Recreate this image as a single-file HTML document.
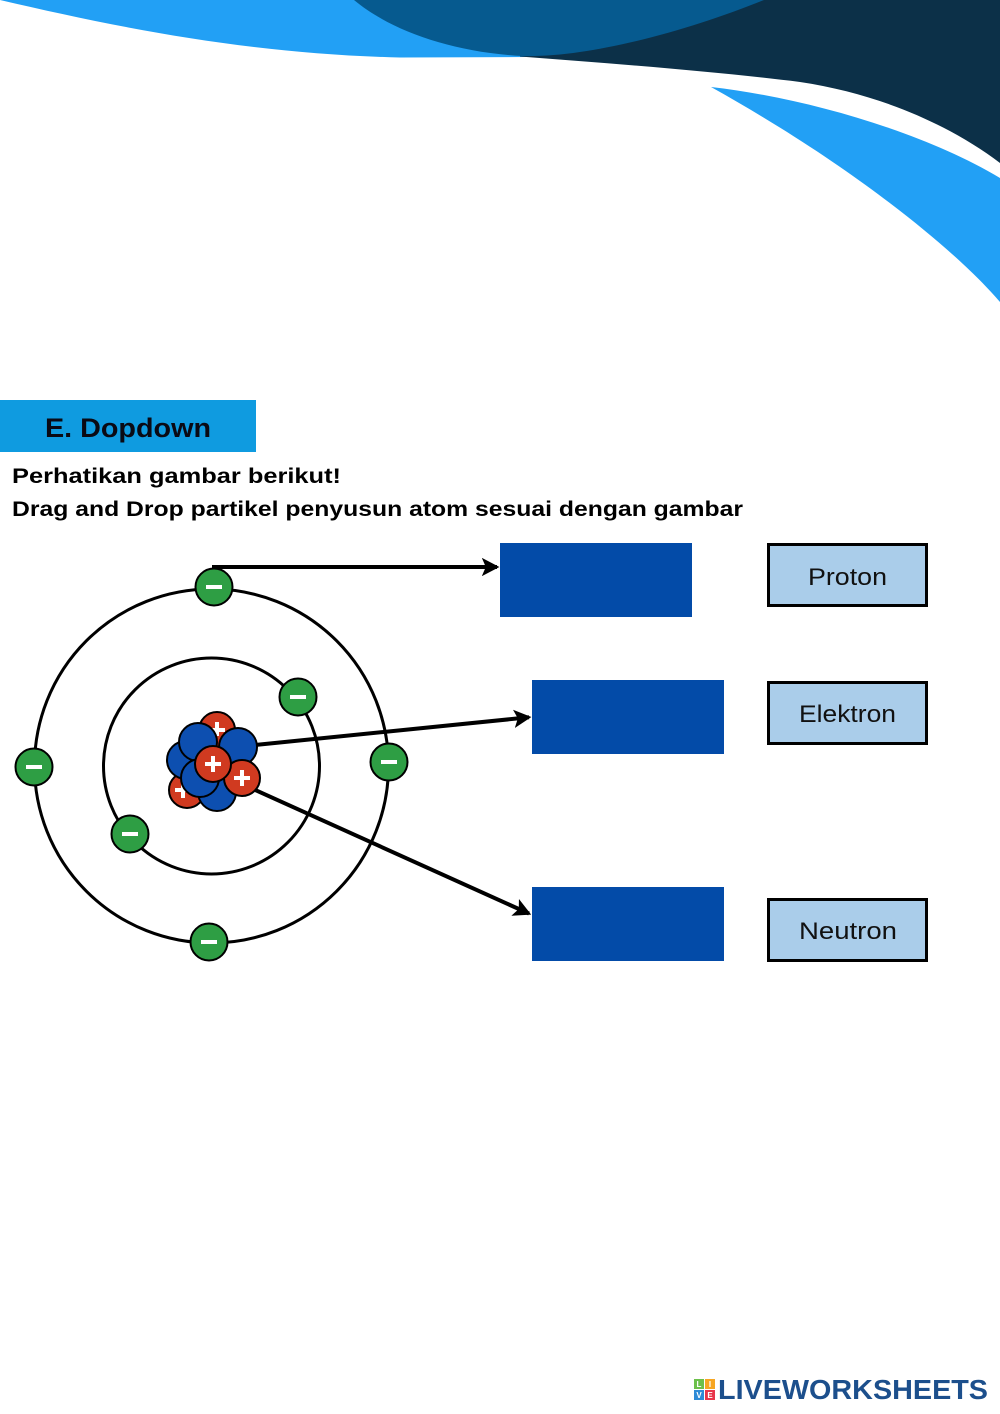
<!DOCTYPE html>
<html><head><meta charset="utf-8"><style>
html,body{margin:0;padding:0;background:#fff;}
svg{display:block;}
</style></head><body>
<svg width="1000" height="1414" viewBox="0 0 1000 1414" xmlns="http://www.w3.org/2000/svg">
<defs>
<marker id="ah" markerWidth="4.4" markerHeight="4.6" refX="3.8" refY="2.3" orient="auto" markerUnits="strokeWidth">
<path d="M0,0 L4.4,2.3 L0,4.6 L1,2.3 Z" fill="#000"/>
</marker>
</defs>
<rect width="1000" height="1414" fill="#fff"/>
<!-- header shapes -->
<path d="M0,0 C120,28 250,54 400,57.5 L526,57 L526,0 Z" fill="#22a0f5"/>
<path d="M520,56.5 C620,64 720,72 800,82 C880,94 950,125 1000,163 L1000,0 L520,0 Z" fill="#0c3048"/>
<path d="M354,0 C390,30 450,52 522,56 C590,58 690,30 764,0 Z" fill="#065a8f"/>
<path d="M711,87 C800,97 920,130 1000,178 L1000,302 C960,255 860,170 711,87 Z" fill="#22a0f5"/>

<!-- heading -->
<rect x="0" y="400" width="256" height="52" fill="#0f9be0"/>
<text x="45" y="437" font-family="Liberation Sans, sans-serif" font-weight="bold" font-size="27" fill="#0a0a14" textLength="166" lengthAdjust="spacingAndGlyphs">E. Dopdown</text>
<text x="12" y="483" font-family="Liberation Sans, sans-serif" font-weight="bold" font-size="21" fill="#000" textLength="329" lengthAdjust="spacingAndGlyphs">Perhatikan gambar berikut!</text>
<text x="12" y="516" font-family="Liberation Sans, sans-serif" font-weight="bold" font-size="21" fill="#000" textLength="731" lengthAdjust="spacingAndGlyphs">Drag and Drop partikel penyusun atom sesuai dengan gambar</text>

<!-- orbits -->
<circle cx="211.5" cy="766" r="177" fill="none" stroke="#000" stroke-width="3"/>
<circle cx="211.5" cy="766" r="108" fill="none" stroke="#000" stroke-width="3"/>

<!-- arrows -->
<line x1="212" y1="567" x2="497" y2="567" stroke="#000" stroke-width="4" marker-end="url(#ah)"/>
<line x1="255" y1="745" x2="529" y2="717.3" stroke="#000" stroke-width="4" marker-end="url(#ah)"/>
<line x1="253" y1="789" x2="529" y2="913.6" stroke="#000" stroke-width="4" marker-end="url(#ah)"/>

<!-- nucleus -->
<g stroke="#000" stroke-width="2">
<circle cx="187" cy="790" r="18" fill="#d03a20"/>
</g>
<g fill="#fff"><rect x="175" y="788" width="16" height="4"/><rect x="181" y="782" width="4" height="16"/></g>
<g stroke="#000" stroke-width="2">
<circle cx="217" cy="792" r="19" fill="#0d4fb0"/>
<circle cx="217" cy="730" r="18" fill="#d03a20"/>
</g>
<g fill="#fff"><rect x="209" y="728" width="16" height="4"/><rect x="215" y="722" width="4" height="14"/></g>
<g stroke="#000" stroke-width="2">
<circle cx="186" cy="760" r="19" fill="#0d4fb0"/>
<circle cx="198" cy="742" r="19" fill="#0d4fb0"/>
<circle cx="238" cy="747" r="19" fill="#0d4fb0"/>
<circle cx="200" cy="778" r="19" fill="#0d4fb0"/>
<circle cx="242" cy="778" r="18" fill="#d03a20"/>
<circle cx="213" cy="764" r="18" fill="#d03a20"/>
</g>
<g fill="#fff">
<rect x="234" y="776" width="16" height="4"/><rect x="240" y="770" width="4" height="16"/>
<rect x="205" y="762" width="16" height="4"/><rect x="211" y="756" width="4" height="16"/>
</g>

<!-- electrons -->
<g stroke="#000" stroke-width="2" fill="#2e9e44">
<circle cx="214" cy="587" r="18.5"/>
<circle cx="298" cy="697" r="18.5"/>
<circle cx="34" cy="767" r="18.5"/>
<circle cx="389" cy="762" r="18.5"/>
<circle cx="130" cy="834" r="18.5"/>
<circle cx="209" cy="942" r="18.5"/>
</g>
<g fill="#fff">
<rect x="206" y="585" width="16" height="4"/>
<rect x="290" y="695" width="16" height="4"/>
<rect x="26" y="765" width="16" height="4"/>
<rect x="381" y="760" width="16" height="4"/>
<rect x="122" y="832" width="16" height="4"/>
<rect x="201" y="940" width="16" height="4"/>
</g>

<!-- drop boxes -->
<rect x="500" y="543" width="192" height="74" fill="#034ba8"/>
<rect x="532" y="680" width="192" height="74" fill="#034ba8"/>
<rect x="532" y="887" width="192" height="74" fill="#034ba8"/>

<!-- labels -->
<g fill="#aacdea" stroke="#000" stroke-width="3">
<rect x="768.5" y="544.5" width="158" height="61"/>
<rect x="768.5" y="682.5" width="158" height="61"/>
<rect x="768.5" y="899.5" width="158" height="61"/>
</g>
<g font-family="Liberation Sans, sans-serif" font-size="24" fill="#111">
<text x="808" y="585" textLength="79" lengthAdjust="spacingAndGlyphs">Proton</text>
<text x="799" y="722" textLength="97" lengthAdjust="spacingAndGlyphs">Elektron</text>
<text x="799" y="939" textLength="98" lengthAdjust="spacingAndGlyphs">Neutron</text>
</g>

<!-- logo -->
<rect x="694" y="1379" width="10" height="10" fill="#6cc04a"/>
<rect x="705" y="1379" width="10" height="10" fill="#f6a623"/>
<rect x="694" y="1390" width="10" height="10" fill="#2d8ad6"/>
<rect x="705" y="1390" width="10" height="10" fill="#e8354a"/>
<g font-family="Liberation Sans, sans-serif" font-weight="bold" font-size="8" fill="#fff" text-anchor="middle">
<text x="699" y="1387">L</text><text x="710" y="1387">I</text>
<text x="699" y="1398">V</text><text x="710" y="1398">E</text>
</g>
<text x="718" y="1399" font-family="Liberation Sans, sans-serif" font-weight="bold" font-size="28" fill="#1c4f8c" textLength="270" lengthAdjust="spacingAndGlyphs">LIVEWORKSHEETS</text>
</svg>
</body></html>
